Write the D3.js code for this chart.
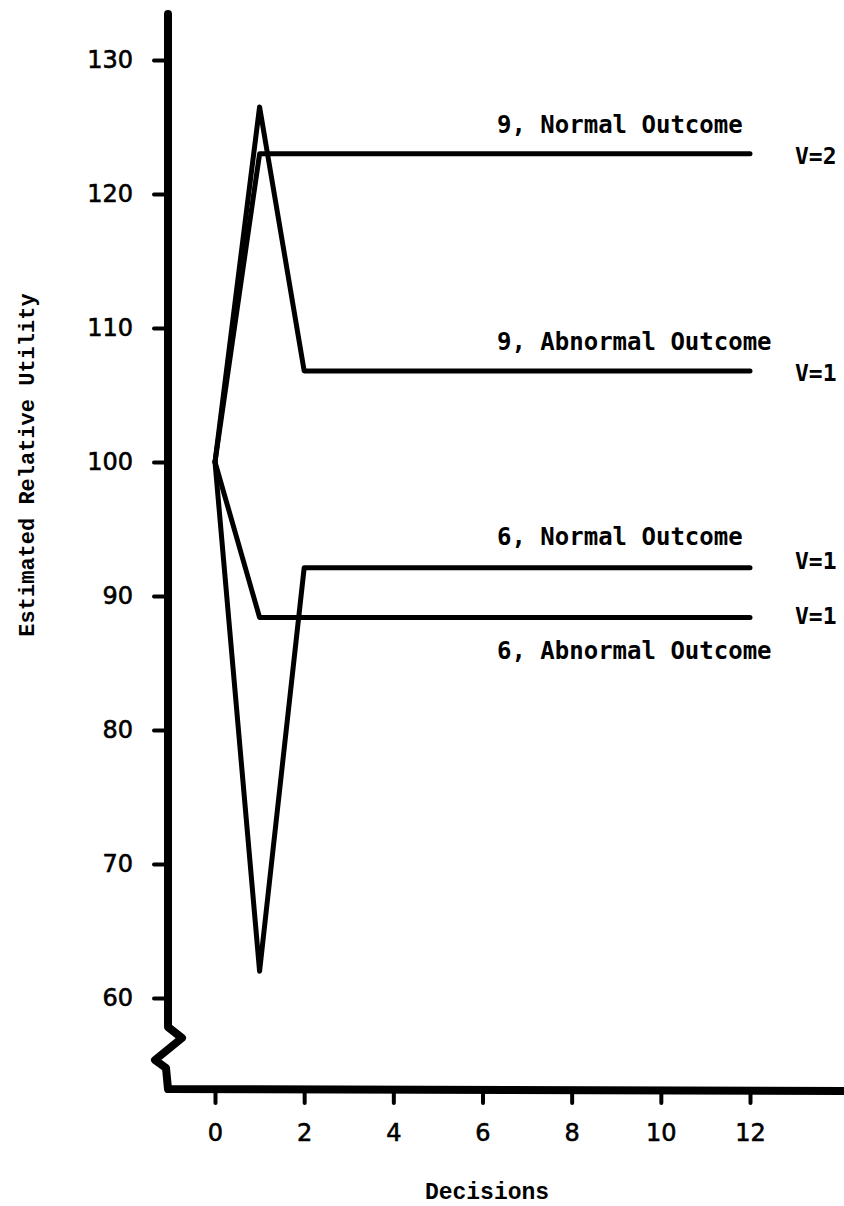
<!DOCTYPE html>
<html>
<head>
<meta charset="utf-8">
<script src="https://cdn.jsdelivr.net/npm/d3@7"></script>
<style>
  body { margin: 0; background: #fff; }
  svg { display: block; }
  .tick text { font-family: "DejaVu Sans", sans-serif; font-size: 24px; fill: #000; stroke: #000; stroke-width: 0.6; }
  .tick line { stroke: #000; stroke-width: 4; stroke-linecap: round; }
</style>
</head>
<body>
<div id="chart"></div>
<script>
// decision steps where the curves change
const decisions = [0, 1, 2, 12];

// estimated relative utility per series
const nine_normal = [100, 123, 123, 123];
const nine_abnormal = [100, 126.5, 106.8, 106.8];
const six_normal = [100, 62, 92.1, 92.1];
const six_abnormal = [100, 88.4, 88.4, 88.4];

const seriesNames = ["9, Normal Outcome", "9, Abnormal Outcome", "6, Normal Outcome", "6, Abnormal Outcome"];
const vLabels = ["V=2", "V=1", "V=1", "V=1"];

const xTicks = [0, 2, 4, 6, 8, 10, 12];
const yTicks = [60, 70, 80, 90, 100, 110, 120, 130];

const W = 844, H = 1206;

const svg = d3.select("#chart")
    .append("svg")
    .attr("width", W)
    .attr("height", H);

const x = d3.scaleLinear()
    .domain([0, 12])
    .range([215, 750]);

const y = d3.scaleLinear()
    .domain([60, 130])
    .range([998, 60]);

const axisX = 168, axisY = 1089;

// y axis ticks
svg.append("g")
    .attr("transform", `translate(${axisX},0)`)
    .call(d3.axisLeft(y).tickValues(yTicks).tickSize(14).tickPadding(21))
    .call(g => g.select(".domain").remove());

// x axis ticks
svg.append("g")
    .attr("transform", `translate(0,${axisY})`)
    .call(d3.axisBottom(x).tickValues(xTicks).tickSize(14).tickPadding(21))
    .call(g => g.select(".domain").remove());

// heavy axis frame with the break zigzag
svg.append("path")
    .attr("d", d3.line()([
        [axisX, 14], [axisX, 1027], [182, 1038], [155, 1060], [166, 1068],
        [axisX, axisY], [W + 5, axisY + 2]
    ]))
    .attr("fill", "none")
    .attr("stroke", "#000")
    .attr("stroke-width", 8)
    .attr("stroke-linejoin", "round")
    .attr("stroke-linecap", "round");

const allSeries = [nine_normal, nine_abnormal, six_normal, six_abnormal];

const line = d3.line()
    .x((d, i) => x(decisions[i]))
    .y(d => y(d));

svg.selectAll(".series")
    .data(allSeries)
    .enter()
    .append("path")
    .attr("class", "series")
    .attr("d", d => line(d))
    .attr("fill", "none")
    .attr("stroke", "#000")
    .attr("stroke-width", 5)
    .attr("stroke-linejoin", "round")
    .attr("stroke-linecap", "round");

// name labels above / below the flat ends
const nameOffsets = [-21, -21, -23, 42];
const vOffsets = [10, 10, 1, 7];

svg.selectAll(".name")
    .data(allSeries)
    .enter()
    .append("text")
    .attr("class", "name")
    .attr("x", 497)
    .attr("y", (d, i) => y(d[d.length - 1]) + nameOffsets[i])
    .attr("font-family", "DejaVu Sans Mono, monospace")
    .attr("font-weight", "bold")
    .attr("font-size", 24)
    .text((d, i) => seriesNames[i]);

svg.selectAll(".vlab")
    .data(allSeries)
    .enter()
    .append("text")
    .attr("class", "vlab")
    .attr("x", 795)
    .attr("y", (d, i) => y(d[d.length - 1]) + vOffsets[i])
    .attr("font-family", "DejaVu Sans Mono, monospace")
    .attr("font-weight", "bold")
    .attr("font-size", 23)
    .text((d, i) => vLabels[i]);

// axis titles
svg.append("text")
    .attr("transform", "translate(34,465) rotate(-90)")
    .attr("text-anchor", "middle")
    .attr("font-family", "Liberation Mono, monospace")
    .attr("font-weight", "bold")
    .attr("font-size", 22)
    .text("Estimated Relative Utility");

svg.append("text")
    .attr("x", 487)
    .attr("y", 1199)
    .attr("text-anchor", "middle")
    .attr("font-family", "Liberation Mono, monospace")
    .attr("font-weight", "bold")
    .attr("font-size", 23)
    .text("Decisions");
</script>
</body>
</html>
